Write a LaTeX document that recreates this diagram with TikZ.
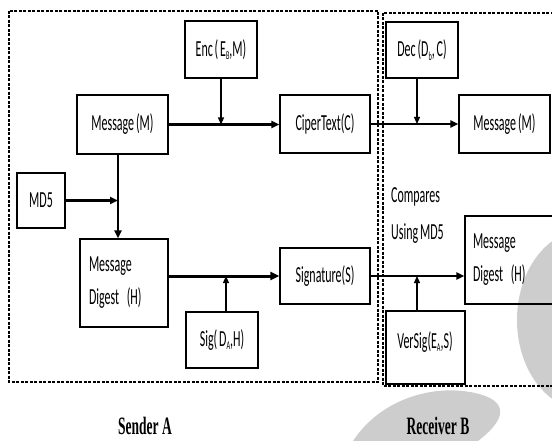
\documentclass[tikz,border=0pt]{standalone}
\usepackage{fontspec}
\usetikzlibrary{arrows.meta}
\newfontfamily\dgfont[FakeStretch=0.52, WordSpace=0.7]{Carlito}
\newfontfamily\lblfont[FakeStretch=0.54]{Liberation Serif}
\newcommand\sbs[1]{\raisebox{-0.3ex}{\fontsize{12}{12}\selectfont #1}}
\definecolor{blobgray}{RGB}{205,205,205}
\begin{document}
\begin{tikzpicture}[x=1pt,y=-1pt,
  box/.style={draw, line width=1.1pt, inner sep=0pt, font=\dgfont\fontsize{23}{26}\selectfont},
  plain/.style={inner sep=0pt, font=\dgfont\fontsize{23}{26}\selectfont},
  frame/.style={draw, line width=1.6pt, dash pattern=on 3pt off 1.5pt},
  arr/.style={-{Triangle[length=7pt,width=6pt]}, line width=1.2pt},
  tarr/.style={-{Triangle[length=8pt,width=7pt]}, line width=2.2pt},
  lbl/.style={inner sep=0pt, font=\lblfont\bfseries\fontsize{25}{27}\selectfont}]
\useasboundingbox (0,0) rectangle (552,441);
% background grey shapes
\begin{scope}
\clip (0,0) rectangle (552,441);
\fill[blobgray] (585,320) ellipse [x radius=68, y radius=90];
\fill[blobgray] (353,441) .. controls (380,400) and (430,385) .. (470,392)
   .. controls (505,398) and (512,415) .. (478,441) -- cycle;
% frames
\draw[frame] (9,11) rectangle (378,382);
\draw[frame] (383,13) rectangle (570,386);
% nodes
\node[box, minimum width=72pt, minimum height=57pt] (enc) at (221,49.5) {Enc ( E\sbs{B},M)};
\node[box, minimum width=91pt, minimum height=59pt] (msg) at (122.5,124.5) {Message (M)};
\node[box, minimum width=48pt, minimum height=55pt] (md5) at (41,200.5) {MD5};
\node[box, minimum width=88pt, minimum height=88pt, text width=70pt, align=left,
      font=\dgfont\fontsize{23}{33}\selectfont] (mda) at (124,283) {Message\\Digest (H)};
\node[box, minimum width=72pt, minimum height=56pt] (sig) at (222,340) {Sig( D\sbs{A},H)};
\node[box, minimum width=90pt, minimum height=58pt] (cip) at (325,124) {CiperText(C)};
\node[box, minimum width=90pt, minimum height=56pt] (sgn) at (325,276) {Signature(S)};
\node[box, minimum width=72pt, minimum height=56pt] (dec) at (422,50) {Dec (D\sbs{b}, C)};
\node[box, minimum width=91pt, minimum height=58pt] (msgr) at (504.5,124) {Message (M)};
\node[box, minimum width=100pt, minimum height=88pt, text width=84pt, align=left,
      font=\dgfont\fontsize{23}{33}\selectfont] (mdb) at (515,260) {Message\\Digest (H)};
\node[box, minimum width=79pt, minimum height=73pt] (ver) at (425.5,347.5) {};
\node[plain] (vert) at (425,342) {VerSig(E\sbs{A},S)};
\node[plain, anchor=west, align=left, font=\dgfont\fontsize{23}{37}\selectfont] (cmp) at (391,216) {Compares\\Using MD5};
\end{scope}
\node[lbl] (sa) at (145,426) {Sender A};
\node[lbl] (rb) at (438,426) {Receiver B};
% connectors
\coordinate (encj) at (enc.south |- msg.east);
\coordinate (md5j) at ([xshift=-4.5pt]msg.south |- md5.east);
\coordinate (sigj) at ([xshift=4pt]sig.north |- sgn.west);
\coordinate (decj) at ([xshift=-5pt]dec.south |- cip.east);
\coordinate (verj) at ([xshift=-8.5pt]ver.north |- sgn.east);
\draw[tarr] (msg.east) -- (msg.east -| cip.west);
\draw[arr] (enc.south) -- (encj);
\draw[tarr] ([xshift=-4.5pt]msg.south) -- ([xshift=-4.5pt]msg.south |- mda.north);
\draw[tarr] (md5.east) -- (md5j);
\draw[-{Triangle[length=9pt,width=8pt]}, line width=3pt] (mda.east |- sgn.west) -- (sgn.west);
\draw[arr] ([xshift=4pt]sig.north) -- (sigj);
\draw[tarr] (cip.east) -- (cip.east -| msgr.west);
\draw[arr] ([xshift=-5pt]dec.south) -- (decj);
\draw[tarr] (sgn.east) -- (sgn.east -| mdb.west);
\draw[arr] ([xshift=-8.5pt]ver.north) -- (verj);
\end{tikzpicture}
\end{document}
